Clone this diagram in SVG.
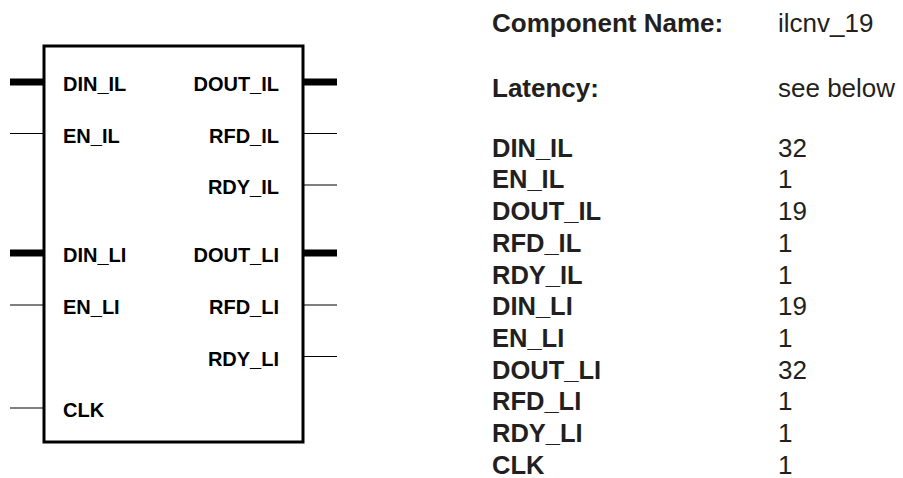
<svg xmlns="http://www.w3.org/2000/svg" width="903" height="478" viewBox="0 0 903 478">
<style>
.lbl{font-family:"Liberation Sans",Arial,sans-serif;font-weight:bold;font-size:20px;fill:#000}
.r{text-anchor:end}
.k{font-family:"Liberation Sans",Arial,sans-serif;font-weight:bold;font-size:25.5px;fill:#231f20}
.h{font-size:26px}
.v{font-family:"Liberation Sans",Arial,sans-serif;font-size:26px;fill:#231f20}
.bus{stroke:#000;stroke-width:7;fill:none}
.sig{stroke:#000;stroke-width:1.2;fill:none}
</style>
<g id="connectors">
<line class="bus" x1="10" y1="82" x2="44" y2="82"/>
<line class="sig" x1="10" y1="133.5" x2="44" y2="133.5"/>
<line class="bus" x1="10" y1="253" x2="44" y2="253"/>
<line class="sig" x1="10" y1="305" x2="44" y2="305"/>
<line class="sig" x1="10" y1="408" x2="44" y2="408"/>
<line class="bus" x1="303" y1="82" x2="337" y2="82"/>
<line class="sig" x1="303" y1="133.5" x2="337" y2="133.5"/>
<line class="sig" x1="303" y1="185" x2="337" y2="185"/>
<line class="bus" x1="303" y1="253" x2="337" y2="253"/>
<line class="sig" x1="303" y1="305" x2="337" y2="305"/>
<line class="sig" x1="303" y1="356.5" x2="337" y2="356.5"/>
</g>
<g id="block">
<rect x="44" y="46" width="259" height="396" fill="#fff" stroke="#000" stroke-width="3"/>
<text class="lbl" x="63" y="91">DIN_IL</text>
<text class="lbl" x="63" y="142.5">EN_IL</text>
<text class="lbl" x="63" y="262">DIN_LI</text>
<text class="lbl" x="63" y="314">EN_LI</text>
<text class="lbl" x="63" y="417">CLK</text>
<text class="lbl r" x="279" y="91">DOUT_IL</text>
<text class="lbl r" x="279" y="142.5">RFD_IL</text>
<text class="lbl r" x="279" y="194">RDY_IL</text>
<text class="lbl r" x="279" y="262">DOUT_LI</text>
<text class="lbl r" x="279" y="314">RFD_LI</text>
<text class="lbl r" x="279" y="365.5">RDY_LI</text>
</g>
<g id="info">
<text class="k h" x="492" y="32">Component Name:</text>
<text class="v" x="778" y="32">ilcnv_19</text>
<text class="k h" x="492" y="97">Latency:</text>
<text class="v" x="778" y="97">see below</text>
<text class="k" x="492" y="156.7">DIN_IL</text><text class="v" x="778" y="156.7">32</text>
<text class="k" x="492" y="188.4">EN_IL</text><text class="v" x="778" y="188.4">1</text>
<text class="k" x="492" y="220.1">DOUT_IL</text><text class="v" x="778" y="220.1">19</text>
<text class="k" x="492" y="251.8">RFD_IL</text><text class="v" x="778" y="251.8">1</text>
<text class="k" x="492" y="283.5">RDY_IL</text><text class="v" x="778" y="283.5">1</text>
<text class="k" x="492" y="315.2">DIN_LI</text><text class="v" x="778" y="315.2">19</text>
<text class="k" x="492" y="346.9">EN_LI</text><text class="v" x="778" y="346.9">1</text>
<text class="k" x="492" y="378.6">DOUT_LI</text><text class="v" x="778" y="378.6">32</text>
<text class="k" x="492" y="410.3">RFD_LI</text><text class="v" x="778" y="410.3">1</text>
<text class="k" x="492" y="442">RDY_LI</text><text class="v" x="778" y="442">1</text>
<text class="k" x="492" y="473.7">CLK</text><text class="v" x="778" y="473.7">1</text>
</g>
</svg>
